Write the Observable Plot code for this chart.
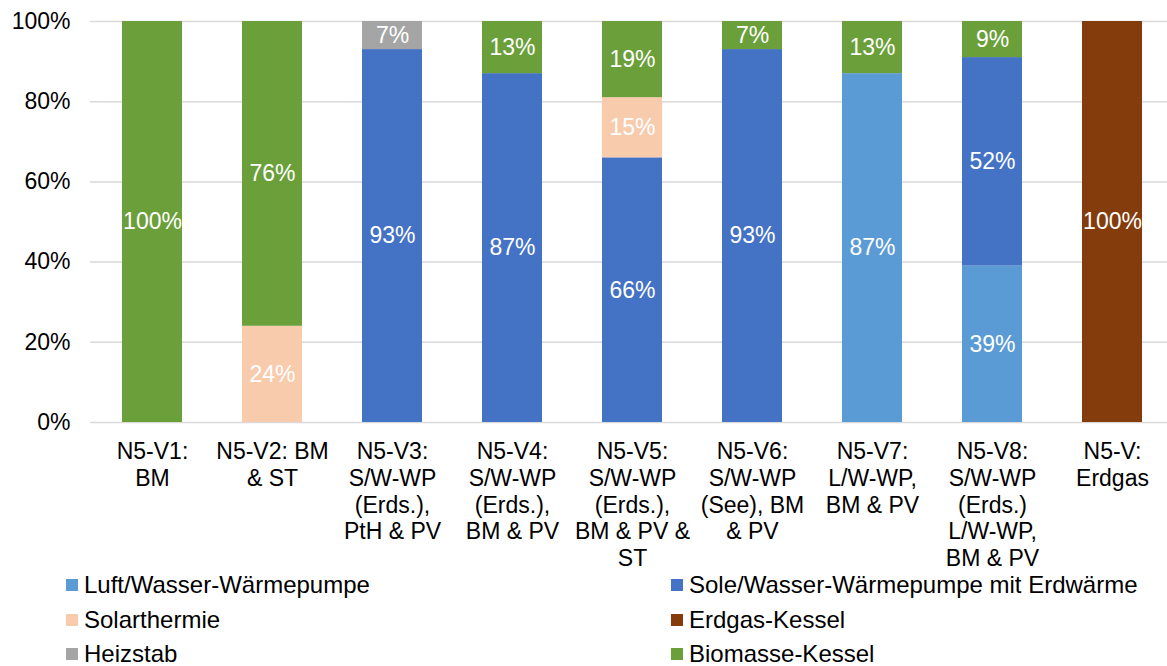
<!DOCTYPE html>
<html>
<head>
<meta charset="utf-8">
<script src="https://cdn.jsdelivr.net/npm/d3@7"></script>
<script src="https://cdn.jsdelivr.net/npm/@observablehq/plot@0.6"></script>
<style>
  html, body { margin: 0; padding: 0; background: #fff; }
  body { width: 1167px; height: 666px; position: relative; overflow: hidden;
         font-family: "Liberation Sans", Arial, sans-serif; }
  #chart { position: absolute; left: 0; top: 0; }
  #legend { position: absolute; left: 66px; top: 568px;
            display: grid; grid-template-columns: 605px auto; grid-auto-rows: 34.5px; }
  .item { display: flex; align-items: center; font-size: 24px; line-height: 22px; color: #000; height: 34.5px; }
  .sw { width: 12px; height: 12px; margin-right: 6px; flex: none; }
</style>
</head>
<body>
<div id="chart"></div>
<div id="legend"></div>
<script>
const categories = [
  "N5-V1:\nBM",
  "N5-V2: BM\n& ST",
  "N5-V3:\nS/W-WP\n(Erds.),\nPtH & PV",
  "N5-V4:\nS/W-WP\n(Erds.),\nBM & PV",
  "N5-V5:\nS/W-WP\n(Erds.),\nBM & PV &\nST",
  "N5-V6:\nS/W-WP\n(See), BM\n& PV",
  "N5-V7:\nL/W-WP,\nBM & PV",
  "N5-V8:\nS/W-WP\n(Erds.)\nL/W-WP,\nBM & PV",
  "N5-V:\nErdgas"
];
const seriesNames = [
  "Luft/Wasser-Wärmepumpe",
  "Sole/Wasser-Wärmepumpe mit Erdwärme",
  "Solarthermie",
  "Erdgas-Kessel",
  "Heizstab",
  "Biomasse-Kessel"
];
const seriesColors = ["#5B9BD5", "#4472C4", "#F8CBAD", "#843C0C", "#A5A5A5", "#6A9F3A"];
// values per series, one per category (percent)
const luftWasser   = [0, 0, 0, 0, 0, 0, 87, 39, 0];
const soleWasser   = [0, 0, 93, 87, 66, 93, 0, 52, 0];
const solarthermie = [0, 24, 0, 0, 15, 0, 0, 0, 0];
const erdgas       = [0, 0, 0, 0, 0, 0, 0, 0, 100];
const heizstab     = [0, 0, 7, 0, 0, 0, 0, 0, 0];
const biomasse     = [100, 76, 0, 13, 19, 7, 13, 9, 0];
const yTicks = [0, 20, 40, 60, 80, 100];

const seriesValues = [luftWasser, soleWasser, solarthermie, erdgas, heizstab, biomasse];
const data = [];
seriesNames.forEach((s, i) => {
  categories.forEach((c, j) => {
    const v = seriesValues[i][j];
    if (v > 0) data.push({category: c, series: s, value: v});
  });
});

const chart = Plot.plot({
  width: 1167,
  height: 590,
  marginTop: 21,
  marginLeft: 90,
  marginRight: 0,
  marginBottom: 168,
  style: {fontFamily: '"Liberation Sans", Arial, sans-serif', fontSize: "23px", color: "#000", background: "transparent"},
  x: {domain: categories, range: [90, 1174.5], paddingInner: 0.5, paddingOuter: 0.25, label: null},
  y: {domain: [0, 100], label: null},
  color: {domain: seriesNames, range: seriesColors},
  marks: [
    Plot.ruleY(yTicks, {stroke: "#d9d9d9", strokeWidth: 1.5}),
    Plot.barY(data, Plot.stackY({order: seriesNames}, {x: "category", y: "value", z: "series", fill: "series"})),
    Plot.text(data, Plot.stackY({order: seriesNames}, {
      x: "category", y: "value", z: "series",
      text: d => d.value + "%", fill: "white", fontSize: 23
    })),
    Plot.axisY({ticks: yTicks, tickFormat: d => d + "%", tickSize: 0, tickPadding: 20, fontSize: 23, label: null}),
    Plot.axisX({tickSize: 0, tickPadding: 18, fontSize: 23, lineHeight: 1.16, label: null})
  ]
});
document.getElementById("chart").appendChild(chart);

const legend = document.getElementById("legend");
seriesNames.forEach((s, i) => {
  const item = document.createElement("div");
  item.className = "item";
  const sw = document.createElement("span");
  sw.className = "sw";
  sw.style.background = seriesColors[i];
  const t = document.createElement("span");
  t.textContent = s;
  item.appendChild(sw);
  item.appendChild(t);
  legend.appendChild(item);
});
</script>
</body>
</html>
